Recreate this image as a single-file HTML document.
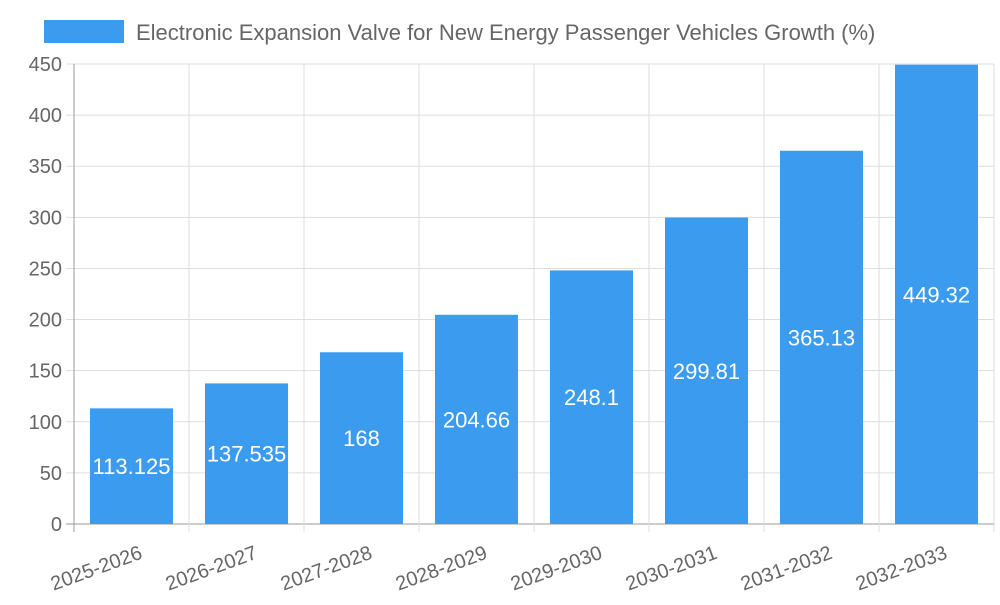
<!DOCTYPE html>
<html><head><meta charset="utf-8"><style>
body{margin:0;background:#fff;font-family:"Liberation Sans",sans-serif}
</style></head><body>
<svg id="chart" width="1000" height="600" xmlns="http://www.w3.org/2000/svg" font-family="Liberation Sans, sans-serif">
<rect x="44" y="20" width="80" height="23" fill="#3a9bef"/>
<text x="136" y="40" font-size="22" fill="#666">Electronic Expansion Valve for New Energy Passenger Vehicles Growth (%)</text>
<g id="grid"></g><g id="bars"></g><g id="labels"></g>
</svg>
<script>
const categories=["2025-2026","2026-2027","2027-2028","2028-2029","2029-2030","2030-2031","2031-2032","2032-2033"];
const values=[113.125,137.535,168,204.66,248.1,299.81,365.13,449.32];
const yTicks=[0,50,100,150,200,250,300,350,400,450];
const NS="http://www.w3.org/2000/svg";
const L=74,R=994,T=64,B=524,yMax=450;
const step=(R-L)/categories.length;
const y=v=>B-(v/yMax)*(B-T);
const x=i=>L+step*i;
function mk(t,a,p){const e=document.createElementNS(NS,t);for(const k in a)e.setAttribute(k,a[k]);p.appendChild(e);return e;}
const grid=document.getElementById('grid'),bars=document.getElementById('bars'),labels=document.getElementById('labels');
yTicks.forEach(v=>{
 const l=mk('line',{x1:L-8,x2:R,y1:y(v),y2:y(v),stroke:v===0?'#999':'#ddd','stroke-width':1},grid);
 
 
 const t=mk('text',{x:L-12,y:y(v)+7,'text-anchor':'end','font-size':20,fill:'#666'},grid);
 t.textContent=v;
 
 
});
for(let i=0;i<=categories.length;i++){
 const l=mk('line',{x1:x(i),x2:x(i),y1:T,y2:B+8,stroke:i===0?'#999':'#ddd','stroke-width':1},grid);
 
 
}
categories.forEach((c,i)=>{
 const cx=x(i)+step/2,bw=83;
 const r=mk('rect',{x:cx-bw/2,y:y(values[i]),width:bw,height:B-y(values[i]),fill:'#3a9bef'},bars);
 
 
 const vt=mk('text',{x:cx,y:(y(values[i])+B)/2+8,'text-anchor':'middle','font-size':22,fill:'#fff'},labels);
 vt.textContent=values[i];
 
 
 const xt=mk('text',{x:cx+12,y:B+34,'text-anchor':'end','font-size':20,fill:'#666',transform:`rotate(-20 ${cx+12} ${B+34})`},labels);
 xt.textContent=c;
 
 
});
</script>
</body></html>
